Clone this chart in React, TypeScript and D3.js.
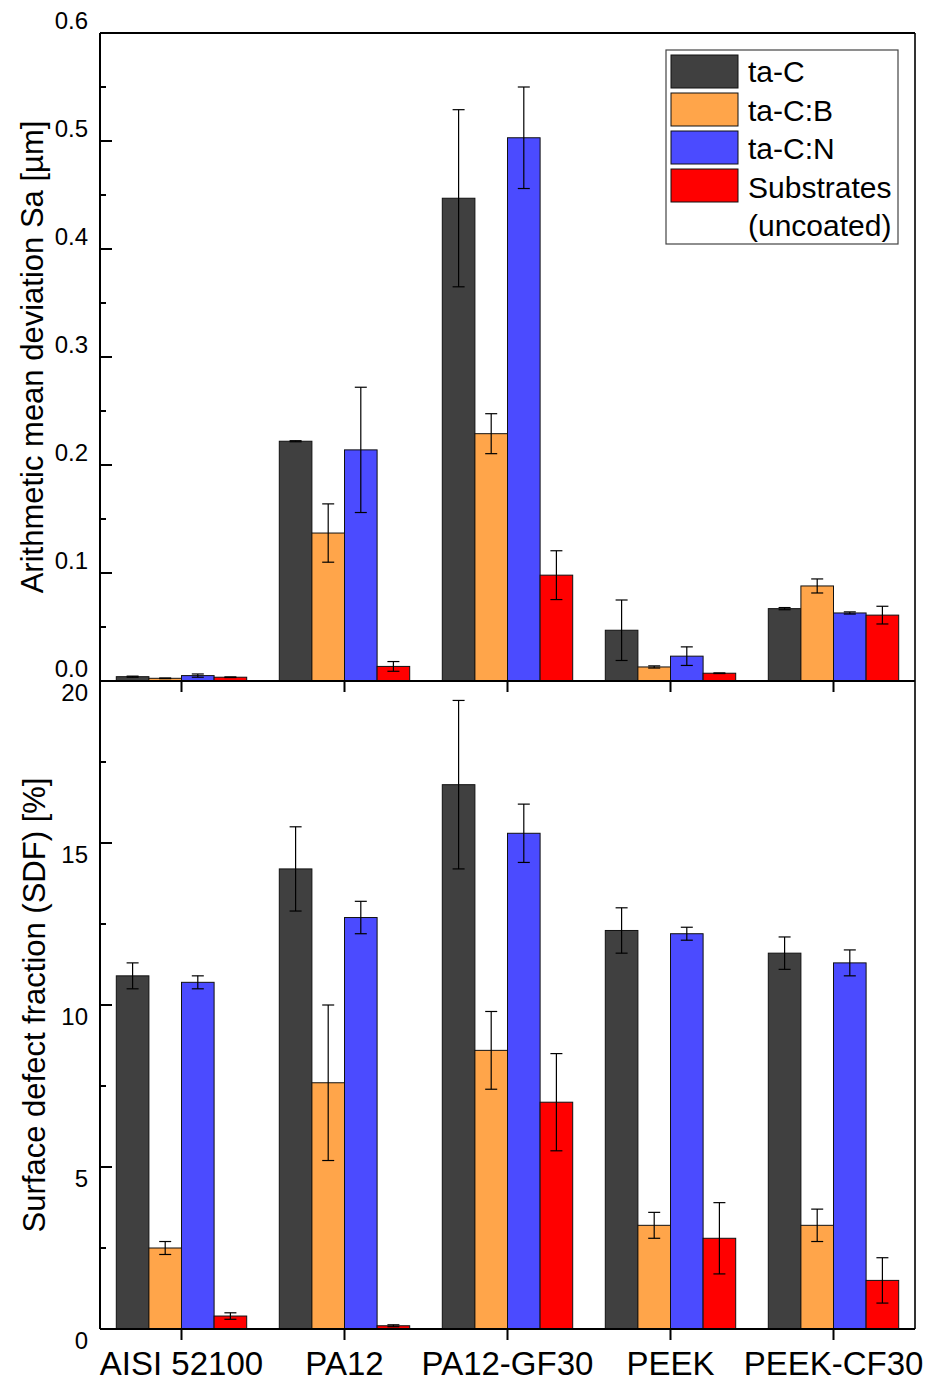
import React, { useEffect, useRef } from "react";
import * as d3 from "d3";

// categories and series
const categories = ["AISI 52100", "PA12", "PA12-GF30", "PEEK", "PEEK-CF30"];
const seriesNames = ["ta-C", "ta-C:B", "ta-C:N", "Substrates"];
const seriesColors = ["#404040", "#FFA54A", "#4B4BFF", "#FF0000"];

// Sa [µm] values and errors
const saTaC = [0.004, 0.222, 0.447, 0.047, 0.067];
const saTaCErr = [0.0005, 0.0005, 0.082, 0.028, 0.001];
const saTaCB = [0.0025, 0.137, 0.229, 0.013, 0.088];
const saTaCBErr = [0.0003, 0.027, 0.0185, 0.001, 0.0065];
const saTaCN = [0.005, 0.214, 0.503, 0.023, 0.063];
const saTaCNErr = [0.0015, 0.058, 0.047, 0.0086, 0.001];
const saSub = [0.0035, 0.0135, 0.098, 0.0072, 0.061];
const saSubErr = [0.0003, 0.0045, 0.0226, 0.0003, 0.0082];

// SDF [%] values and errors
const sdfTaC = [10.9, 14.2, 16.8, 12.3, 11.6];
const sdfTaCErr = [0.4, 1.3, 2.6, 0.7, 0.5];
const sdfTaCB = [2.5, 7.6, 8.6, 3.2, 3.2];
const sdfTaCBErr = [0.2, 2.4, 1.2, 0.4, 0.5];
const sdfTaCN = [10.7, 12.7, 15.3, 12.2, 11.3];
const sdfTaCNErr = [0.2, 0.5, 0.9, 0.2, 0.4];
const sdfSub = [0.4, 0.1, 7.0, 2.8, 1.5];
const sdfSubErr = [0.1, 0.03, 1.5, 1.1, 0.7];

const legendLabels = ["ta-C", "ta-C:B", "ta-C:N", "Substrates", "(uncoated)"];

const FONT = "'Liberation Sans', Arial, sans-serif";

const App = () => {
  const ref = useRef<SVGSVGElement>(null);

  useEffect(() => {
    const svg = d3.select(ref.current);
    svg.selectAll("*").remove();

    const left = 100;
    const right = 915;
    const top1 = 33;
    const mid = 681;
    const bottom2 = 1329;

    const x0 = d3.scaleBand().domain(categories).range([left, right]).padding(0);
    const x1 = d3
      .scaleBand()
      .domain(seriesNames)
      .range([0, x0.bandwidth()])
      .paddingInner(0)
      .paddingOuter(0.5);

    const panels = [
      {
        values: [saTaC, saTaCB, saTaCN, saSub],
        errors: [saTaCErr, saTaCBErr, saTaCNErr, saSubErr],
        y: d3.scaleLinear().domain([0, 0.6]).range([mid, top1]),
        majors: d3.range(0, 0.61, 0.1),
        minors: d3.range(0.05, 0.6, 0.1),
        fmt: d3.format(".1f"),
        labelDy: -4,
        title: "Arithmetic mean deviation Sa [µm]",
        titleX: 33,
      },
      {
        values: [sdfTaC, sdfTaCB, sdfTaCN, sdfSub],
        errors: [sdfTaCErr, sdfTaCBErr, sdfTaCNErr, sdfSubErr],
        y: d3.scaleLinear().domain([0, 20]).range([bottom2, mid]),
        majors: [0, 5, 10, 15, 20],
        minors: [2.5, 7.5, 12.5, 17.5],
        fmt: d3.format("d"),
        labelDy: 20,
        title: "Surface defect fraction (SDF) [%]",
        titleX: 35,
      },
    ];

    panels.forEach((p) => {
      const [y0, yTop] = p.y.range();
      const g = svg.append("g");

      // bars
      seriesNames.forEach((s, si) => {
        g.selectAll(null)
          .data(categories)
          .enter()
          .append("rect")
          .attr("x", (c) => x0(c)! + x1(s)!)
          .attr("y", (c, i) => p.y(p.values[si][i]))
          .attr("width", x1.bandwidth())
          .attr("height", (c, i) => y0 - p.y(p.values[si][i]))
          .attr("fill", seriesColors[si])
          .attr("stroke", "#111")
          .attr("stroke-width", 1);
      });

      // error bars
      seriesNames.forEach((s, si) => {
        categories.forEach((c, i) => {
          const cx = x0(c)! + x1(s)! + x1.bandwidth() / 2;
          const v = p.values[si][i];
          const e = p.errors[si][i];
          const ya = p.y(v + e);
          const yb = p.y(Math.max(0, v - e));
          const eg = g.append("g").attr("stroke", "#000").attr("stroke-width", 1.2);
          eg.append("line").attr("x1", cx).attr("x2", cx).attr("y1", ya).attr("y2", yb);
          eg.append("line").attr("x1", cx - 6).attr("x2", cx + 6).attr("y1", ya).attr("y2", ya);
          eg.append("line").attr("x1", cx - 6).attr("x2", cx + 6).attr("y1", yb).attr("y2", yb);
        });
      });

      // frame
      g.append("line")
        .attr("x1", right).attr("x2", right).attr("y1", yTop).attr("y2", y0)
        .attr("stroke", "#333").attr("stroke-width", 2);
      g.append("line")
        .attr("x1", left).attr("x2", left).attr("y1", yTop).attr("y2", y0)
        .attr("stroke", "#000").attr("stroke-width", 2);
      g.append("line")
        .attr("x1", left).attr("x2", right).attr("y1", yTop).attr("y2", yTop)
        .attr("stroke", "#000").attr("stroke-width", 2);
      g.append("line")
        .attr("x1", left).attr("x2", right).attr("y1", y0).attr("y2", y0)
        .attr("stroke", "#000").attr("stroke-width", 2);

      // y ticks (inward)
      p.majors.forEach((t) => {
        g.append("line")
          .attr("x1", left).attr("x2", left + 12)
          .attr("y1", p.y(t)).attr("y2", p.y(t))
          .attr("stroke", "#000").attr("stroke-width", 2);
        g.append("text")
          .attr("x", 88)
          .attr("y", p.y(t) + p.labelDy)
          .attr("text-anchor", "end")
          .attr("font-family", FONT)
          .attr("font-size", 24)
          .text(p.fmt(t));
      });
      p.minors.forEach((t) => {
        g.append("line")
          .attr("x1", left).attr("x2", left + 6)
          .attr("y1", p.y(t)).attr("y2", p.y(t))
          .attr("stroke", "#000").attr("stroke-width", 2);
      });

      // x ticks (downward)
      categories.forEach((c) => {
        const cx = x0(c)! + x0.bandwidth() / 2;
        g.append("line")
          .attr("x1", cx).attr("x2", cx)
          .attr("y1", y0).attr("y2", y0 + 11)
          .attr("stroke", "#000").attr("stroke-width", 2);
      });

      // y title
      g.append("text")
        .attr("transform", `translate(${p.titleX + 10}, ${(y0 + yTop) / 2}) rotate(-90)`)
        .attr("text-anchor", "middle")
        .attr("font-family", FONT)
        .attr("font-size", 31)
        .text(p.title);
    });

    // category labels
    svg
      .selectAll(".cat")
      .data(categories)
      .enter()
      .append("text")
      .attr("x", (c) => x0(c)! + x0.bandwidth() / 2)
      .attr("y", 1375)
      .attr("text-anchor", "middle")
      .attr("font-family", FONT)
      .attr("font-size", 33)
      .text((c) => c);

    // legend
    const lg = svg.append("g");
    lg.append("rect")
      .attr("x", 666).attr("y", 50).attr("width", 232).attr("height", 194)
      .attr("fill", "#fff").attr("stroke", "#444").attr("stroke-width", 1.2);
    seriesNames.forEach((s, i) => {
      lg.append("rect")
        .attr("x", 671).attr("y", 55 + i * 38).attr("width", 67).attr("height", 33)
        .attr("fill", seriesColors[i]).attr("stroke", "#111").attr("stroke-width", 1);
    });
    legendLabels.forEach((l, i) => {
      lg.append("text")
        .attr("x", 748)
        .attr("y", 82 + i * 38.5)
        .attr("font-family", FONT)
        .attr("font-size", 30)
        .text(l);
    });
  }, []);

  return (
    <svg
      ref={ref}
      width={930}
      height={1380}
      style={{ position: "absolute", left: 0, top: 0, background: "#fff" }}
    />
  );
};

export default App;
